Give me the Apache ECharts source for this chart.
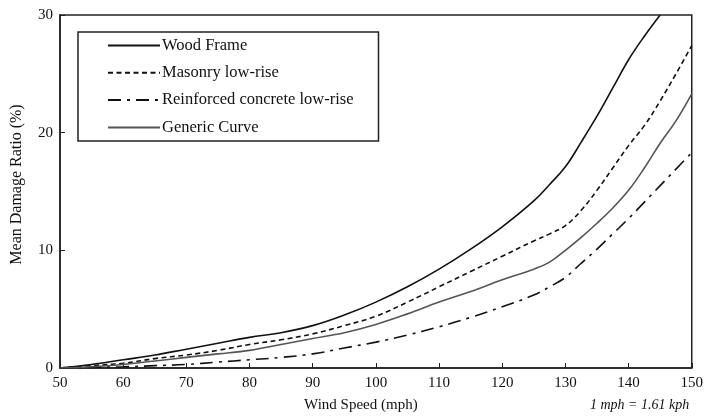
<!DOCTYPE html>
<html>
<head>
<meta charset="utf-8">
<script src="https://cdn.jsdelivr.net/npm/echarts@6/dist/echarts.min.js"></script>
<style>
html,body{margin:0;padding:0;background:#fff;}
#chart{width:706px;height:419px;}
</style>
</head>
<body>
<div id="chart"></div>
<script>
// ---- data ----
const woodSpeed    = [50,55,60,65,70,75,80,85,90,95,100,105,110,115,120,125,127.5,130,132.5,135,137.5,140,142.5,145];
const woodFrame    = [0,0.3,0.7,1.1,1.6,2.1,2.6,3.0,3.6,4.5,5.6,6.9,8.4,10.1,12.0,14.2,15.6,17.1,19.2,21.4,23.8,26.2,28.2,30.0];

const speed        = [50,55,60,65,70,75,80,85,90,95,100,105,110,115,120,125,127.5,130,132.5,135,137.5,140,142.5,145,147.5,150];
const masonry      = [0,0.2,0.4,0.8,1.1,1.5,2.0,2.4,2.9,3.6,4.4,5.6,6.9,8.2,9.5,10.8,11.4,12.1,13.4,15.1,17.0,18.9,20.6,22.7,25.0,27.4];
const reinforced   = [0,0.05,0.1,0.2,0.3,0.5,0.7,0.9,1.2,1.7,2.2,2.8,3.5,4.3,5.2,6.2,6.9,7.7,8.9,10.1,11.4,12.7,14.1,15.5,16.9,18.3];
const generic      = [0,0.1,0.3,0.6,0.9,1.2,1.5,2.0,2.5,3.0,3.7,4.6,5.6,6.5,7.5,8.4,9.0,10.0,11.1,12.3,13.6,15.1,17.0,19.1,21.0,23.3];

const seriesNames  = ['Wood Frame','Masonry low-rise','Reinforced concrete low-rise','Generic Curve'];
const xTicks       = {min:50, max:150, interval:10};
const yTicks       = {min:0, max:30, interval:10};

const pairs = (xs, ys) => xs.map((x, i) => [x, ys[i]]);

const FONT = 'Liberation Serif';
const chart = echarts.init(document.getElementById('chart'));

chart.setOption({
  backgroundColor: '#fff',
  animation: false,
  textStyle: {fontFamily: FONT, color: '#111'},
  grid: {
    left: 60, right: 14, top: 15, bottom: 51,
    show: true, borderColor: '#222', borderWidth: 1.5,
    backgroundColor: 'transparent'
  },
  legend: {
    orient: 'vertical',
    left: 78, top: 32,
    padding: [5, 25, 5, 29],
    borderColor: '#222', borderWidth: 1.5,
    itemWidth: 52, itemHeight: 14, itemGap: 10.3,
    itemStyle: {opacity: 0},
    textStyle: {fontFamily: FONT, fontSize: 16.5, color: '#111', padding: [0,0,0,-3]},
    data: seriesNames
  },
  xAxis: {
    type: 'value',
    min: xTicks.min, max: xTicks.max, interval: xTicks.interval,
    name: 'Wind Speed (mph)',
    nameLocation: 'middle', nameGap: 30,
    nameTextStyle: {fontFamily: FONT, fontSize: 15, color: '#111', padding: [0, 30, 0, 0]},
    axisLine: {show: true, lineStyle: {color: '#222', width: 1.5}},
    axisTick: {show: true, inside: true, length: 5, lineStyle: {color: '#222'}},
    axisLabel: {fontFamily: FONT, fontSize: 15, color: '#111', margin: 8},
    splitLine: {show: false}
  },
  yAxis: {
    type: 'value',
    min: yTicks.min, max: yTicks.max, interval: yTicks.interval,
    name: 'Mean Damage Ratio (%)',
    nameLocation: 'middle', nameGap: 35,
    nameTextStyle: {fontFamily: FONT, fontSize: 16, color: '#111', padding: [0, 0, 0, 14]},
    axisLine: {show: true, lineStyle: {color: '#222', width: 1.5}},
    axisTick: {show: true, inside: true, length: 5, lineStyle: {color: '#222'}},
    axisLabel: {fontFamily: FONT, fontSize: 15, color: '#111', margin: 7},
    splitLine: {show: false}
  },
  graphic: [{
    type: 'text',
    left: 590, top: 398,
    style: {text: '1 mph = 1.61 kph', font: 'italic 14px "Liberation Serif"', fill: '#111'}
  }],
  series: [
    {
      name: seriesNames[0], type: 'line', symbol: 'none', smooth: 0.4,
      data: pairs(woodSpeed, woodFrame),
      lineStyle: {color: '#111', width: 1.6, type: 'solid'},
      itemStyle: {color: '#111'}
    },
    {
      name: seriesNames[1], type: 'line', symbol: 'none', smooth: 0.4,
      data: pairs(speed, masonry),
      lineStyle: {color: '#111', width: 1.6, type: [5, 3.5]},
      itemStyle: {color: '#111'}
    },
    {
      name: seriesNames[2], type: 'line', symbol: 'none', smooth: 0.4,
      data: pairs(speed, reinforced),
      lineStyle: {color: '#111', width: 1.6, type: [13, 6, 3, 6]},
      itemStyle: {color: '#111'}
    },
    {
      name: seriesNames[3], type: 'line', symbol: 'none', smooth: 0.4,
      data: pairs(speed, generic),
      lineStyle: {color: '#555', width: 1.6, type: 'solid'},
      itemStyle: {color: '#555'}
    }
  ]
});
</script>
</body>
</html>
